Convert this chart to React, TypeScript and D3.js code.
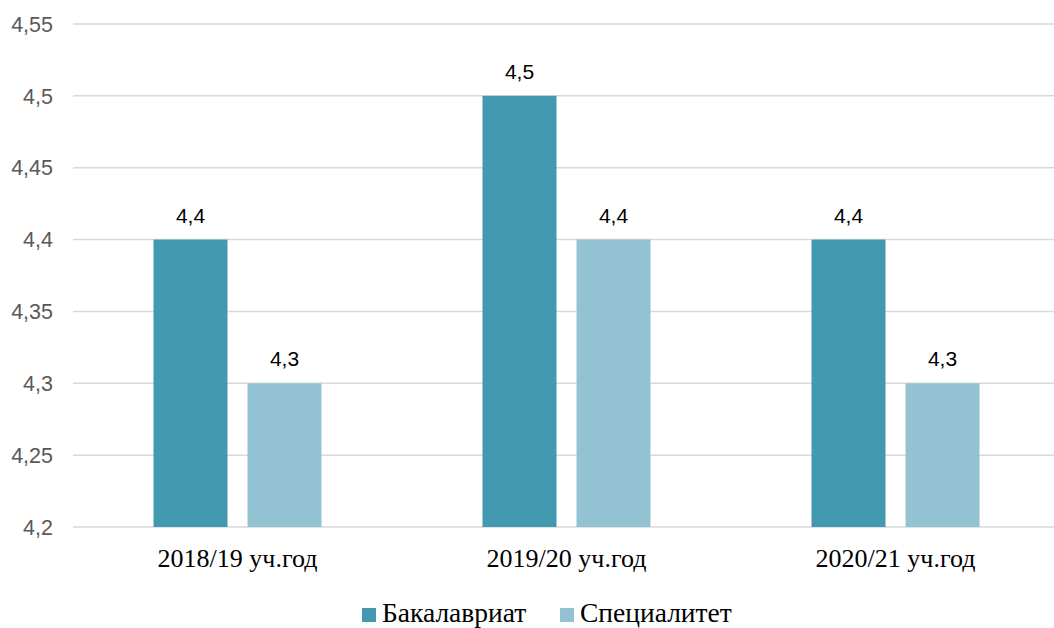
import React from "react";
import * as d3 from "d3";

const categories = ["2018/19 уч.год", "2019/20 уч.год", "2020/21 уч.год"];
const seriesNames = ["Бакалавриат", "Специалитет"];
const bakalavriat = [4.4, 4.5, 4.4];
const specialitet = [4.3, 4.4, 4.3];
const yTicks = [4.2, 4.25, 4.3, 4.35, 4.4, 4.45, 4.5, 4.55];
const colors = ["#4399AF", "#93C3D3"];

const W = 1054;
const H = 628;
const fmt = (v: number) => String(+v.toFixed(2)).replace(".", ",");
const serif = "Liberation Serif, Times New Roman, serif";
const sans = "Liberation Sans, Arial, sans-serif";

export default function App() {
  const x = d3.scaleBand<string>().domain(categories).range([73, 1060]).paddingInner(0).paddingOuter(0);
  const y = d3.scaleLinear().domain([4.2, 4.55]).range([527, 24]);
  const barW = 74;
  const gap = 20;
  const series = [bakalavriat, specialitet];

  return (
    <svg width={W} height={H} style={{ position: "absolute", left: 0, top: 0, background: "#fff" }}>
      {yTicks.map((t) => (
        <g key={t}>
          <line x1={73} x2={W} y1={y(t)} y2={y(t)} stroke="#d9d9d9" strokeWidth={1.5} />
          <text x={53} y={y(t)} dy="0.36em" textAnchor="end" fontSize={21.5} fill="#595959" fontFamily={sans}>
            {fmt(t)}
          </text>
        </g>
      ))}
      {categories.map((c, i) => {
        const cx = x(c)! + x.bandwidth() / 2;
        return (
          <g key={c}>
            {series.map((s, j) => {
              const bx = cx + (j === 0 ? -gap / 2 - barW : gap / 2);
              return (
                <g key={j}>
                  <rect x={bx} y={y(s[i])} width={barW} height={y(4.2) - y(s[i])} fill={colors[j]} />
                  <text x={bx + barW / 2} y={y(s[i]) - 17} textAnchor="middle" fontSize={21} fill="#000" fontFamily={sans}>
                    {fmt(s[i])}
                  </text>
                </g>
              );
            })}
            <text x={cx} y={567} textAnchor="middle" fontSize={26} fill="#000" fontFamily={serif}>
              {c}
            </text>
          </g>
        );
      })}
      {seriesNames.map((n, j) => {
        const lx = j === 0 ? 362 : 560;
        return (
          <g key={n}>
            <rect x={lx} y={608} width={14} height={14} fill={colors[j]} />
            <text x={lx + 20} y={622} fontSize={27.5} fill="#000" fontFamily={serif}>
              {n}
            </text>
          </g>
        );
      })}
    </svg>
  );
}
